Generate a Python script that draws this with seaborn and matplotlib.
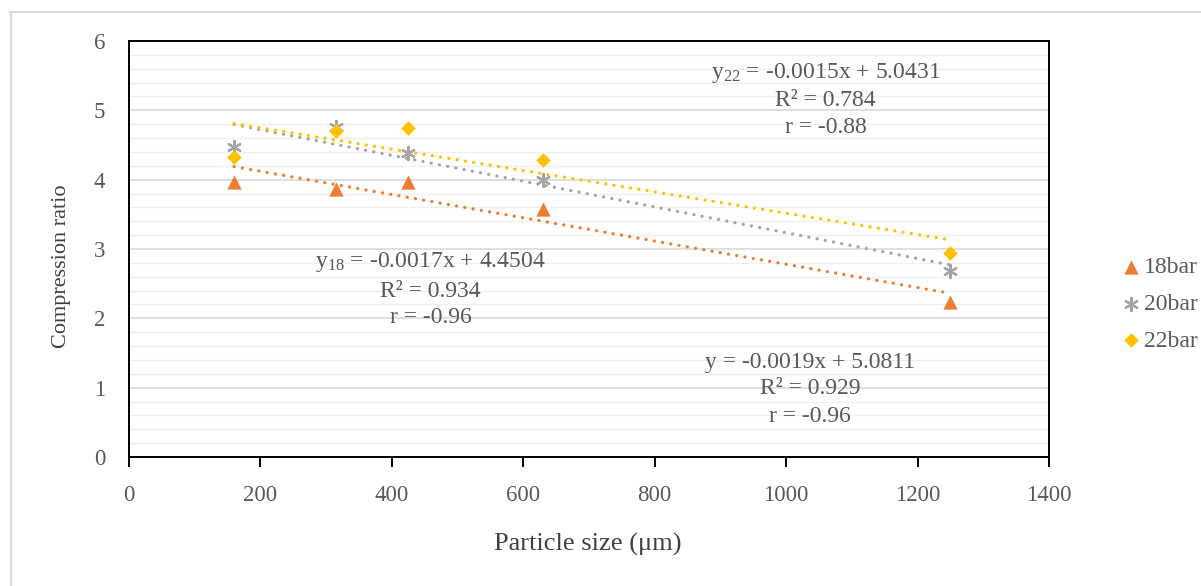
import numpy as np
import pandas as pd
import matplotlib
matplotlib.use('Agg')
import matplotlib.pyplot as plt
from matplotlib.lines import Line2D
import seaborn as sns

# Data
size_um = [160, 315, 425, 630, 1250]
ratio_18 = [3.97, 3.87, 3.97, 3.57, 2.24]
ratio_20 = [4.47, 4.76, 4.39, 4.00, 2.68]
ratio_22 = [4.32, 4.70, 4.75, 4.29, 2.94]
series = ['18bar', '20bar', '22bar']

eq_texts = {
    '18bar': ['y$_{18}$ = -0.0017x + 4.4504', 'R² = 0.934', 'r = -0.96'],
    '20bar': ['y = -0.0019x + 5.0811', 'R² = 0.929', 'r = -0.96'],
    '22bar': ['y$_{22}$ = -0.0015x + 5.0431', 'R² = 0.784', 'r = -0.88'],
}

df = pd.DataFrame({
    'size': size_um * 3,
    'ratio': ratio_18 + ratio_20 + ratio_22,
    'series': [s for s in series for _ in size_um],
})

sns.set_style('white')
plt.rcParams['font.family'] = ['Liberation Serif', 'DejaVu Serif']
plt.rcParams['mathtext.fontset'] = 'custom'
plt.rcParams['mathtext.rm'] = 'Liberation Serif'
plt.rcParams['mathtext.it'] = 'Liberation Serif:italic'

txt_col = '#595959'
colors = {'18bar': '#ED7D31', '20bar': '#A5A5A5', '22bar': '#FFC000'}
markers = {'18bar': '^', '20bar': (6, 2, 0), '22bar': 'D'}
sizes = {'18bar': 105, '20bar': 90, '22bar': 55}

fig = plt.figure(figsize=(12.01, 5.86), dpi=100)
ax = fig.add_axes([129/1201, (586-457)/586, (1049-129)/1201, (457-41)/586])

# outer chart border
fig.add_artist(Line2D([10.5/1201, 10.5/1201], [0, (586-12)/586], color='#d9d9d9', lw=1.5))
fig.add_artist(Line2D([10/1201, 1], [(586-12)/586, (586-12)/586], color='#d9d9d9', lw=1.5))

# trendlines (dotted)
for s in series:
    sub = df[df['series'] == s]
    sns.regplot(data=sub, x='size', y='ratio', ax=ax, scatter=False, ci=None,
                color=colors[s],
                line_kws=dict(lw=2.4, linestyle=(0, (0.01, 2.5)), dash_capstyle='round'))

for s in series:
    sub = df[df['series'] == s]
    lw = 1.6 if s == '20bar' else 0
    ax.scatter(sub['size'], sub['ratio'], marker=markers[s], s=sizes[s],
               color=colors[s], linewidths=lw, label=s, zorder=3)

ax.set_xlim(0, 1400)
ax.set_ylim(0, 6)
ax.set_xticks(np.arange(0, 1401, 200))
ax.set_yticks(np.arange(0, 7, 1))
ax.set_yticks(np.arange(0, 6.01, 0.2), minor=True)
ax.grid(axis='y', which='major', color='#d9d9d9', lw=1.2)
ax.grid(axis='y', which='minor', color='#efefef', lw=1.0)
ax.set_axisbelow(True)
for sp in ax.spines.values():
    sp.set_color('black')
    sp.set_linewidth(1.4)
    sp.set_visible(True)

ax.tick_params(axis='x', which='major', direction='out', length=7, width=1.4,
               color='black', pad=13, labelsize=16.5, labelcolor=txt_col, bottom=True)
ax.tick_params(axis='y', which='both', length=0, pad=17, labelsize=16.5, labelcolor=txt_col)
ax.set_xlabel('Particle size (μm)', fontsize=19, color='#404040')
ax.set_ylabel('Compression ratio', fontsize=16, color='#404040')
ax.xaxis.set_label_coords(0.499, -0.183)
ax.yaxis.set_label_coords(-0.063, 0.458)

# equation labels
eq_pos = {'18bar': (459, [2.81, 2.39, 2.01]),
          '20bar': (1036, [1.37, 0.99, 0.58]),
          '22bar': (1060, [5.54, 5.14, 4.75])}
for s in series:
    xpos, ys = eq_pos[s]
    for line, yv in zip(eq_texts[s], ys):
        ax.text(xpos, yv, line, ha='center', va='center', fontsize=17, color=txt_col)

handles, labels = ax.get_legend_handles_labels()
fig.legend(handles, labels, loc='center left', bbox_to_anchor=(1112/1201, (586-304)/586),
           frameon=False, fontsize=17, labelcolor=txt_col, handletextpad=0.25,
           labelspacing=0.65, markerscale=1.0, handlelength=0.6, borderpad=0)

fig.savefig('out.png', dpi=100)
